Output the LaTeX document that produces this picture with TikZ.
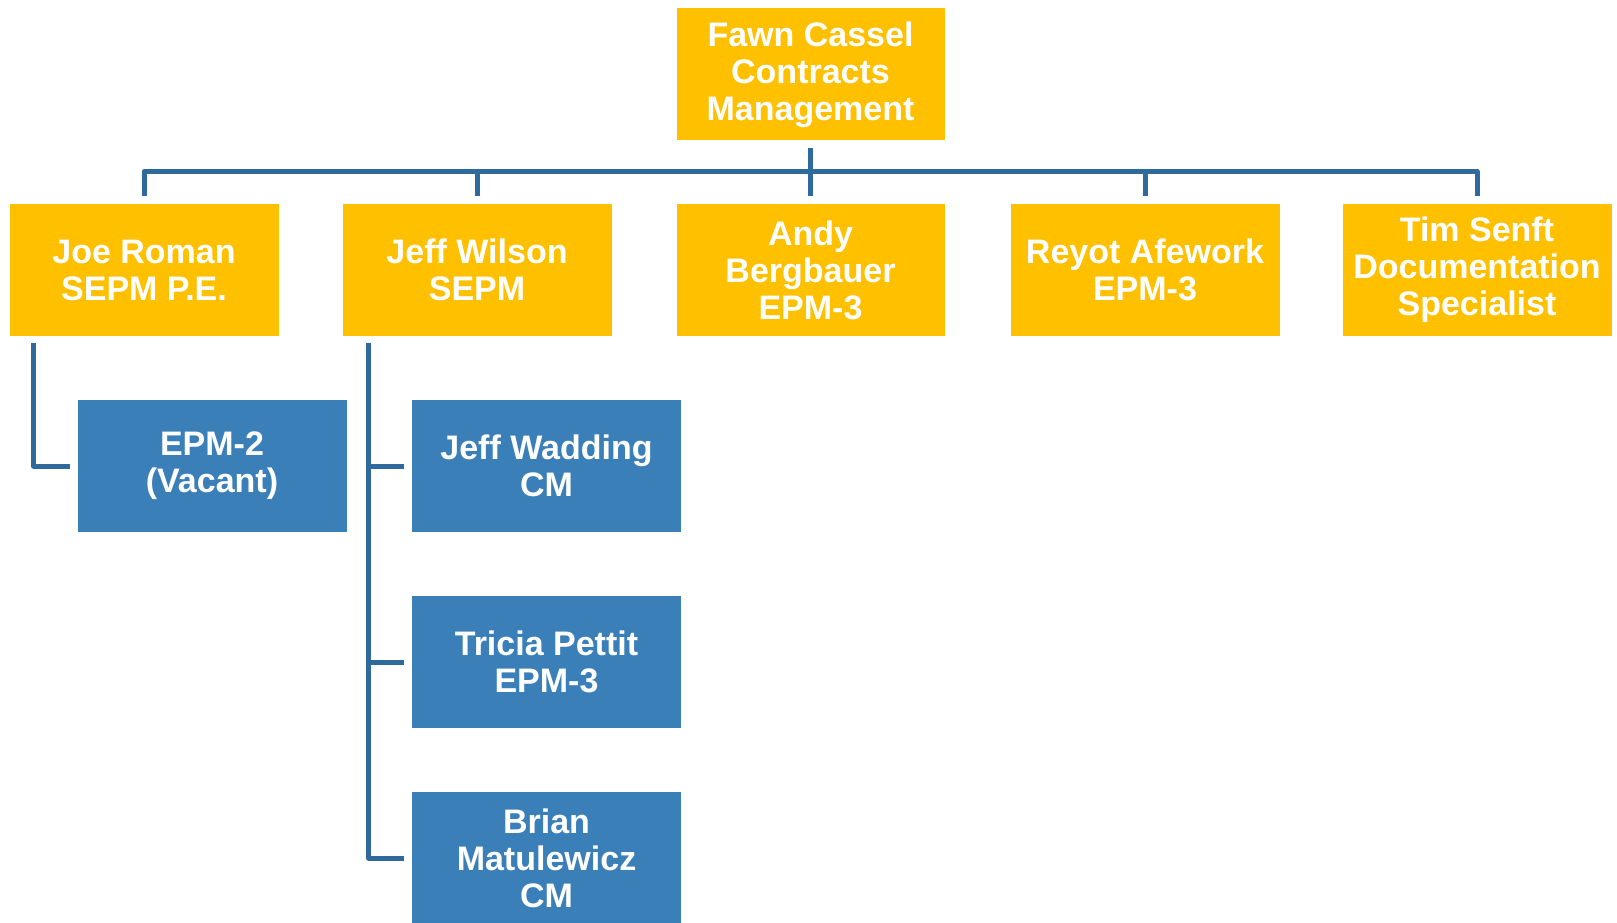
\documentclass[tikz,border=0pt]{standalone}
\usepackage{fontspec}
\setmainfont{Liberation Sans}
\definecolor{gold}{HTML}{FFC000}
\definecolor{boxblue}{HTML}{3B7FB9}
\definecolor{linkblue}{HTML}{2E6A9C}
\tikzset{
  box/.style={minimum width=269pt, minimum height=132pt, inner sep=0pt, align=center, text=white,
    font=\fontsize{34}{37}\selectfont\bfseries},
  goldbox/.style={box, fill=gold},
  bluebox/.style={box, fill=boxblue},
  conn/.style={draw=linkblue, line width=5pt, line join=round}
}
\begin{document}
\begin{tikzpicture}[x=1pt,y=-1pt]
\useasboundingbox (0,0) rectangle (1617,922);
\node[goldbox, minimum width=268pt] (top) at (810.5,74.3) {Fawn Cassel\\Contracts\\Management};
\node[goldbox] (joe) at (144,270) {Joe Roman\\SEPM P.E.};
\node[goldbox] (jeff) at (477,270) {Jeff Wilson\\SEPM};
\node[goldbox, minimum width=268pt] (andy) at (810.5,270) {Andy\\Bergbauer\\EPM-3};
\node[goldbox] (reyot) at (1145,270) {Reyot Afework\\EPM-3};
\node[goldbox] (tim) at (1477,270) {Tim Senft\\Documentation\\Specialist};
\node[bluebox] (epm2) at (212,466) {EPM-2\\(Vacant)};
\node[bluebox] (wadding) at (546.5,466) {Jeff Wadding\\CM};
\node[bluebox] (tricia) at (546.5,662) {Tricia Pettit\\EPM-3};
\node[bluebox] (brian) at (546.5,858) {Brian\\Matulewicz\\CM};
\coordinate (bar) at ([yshift=-31pt]top.south);
\path[conn] ([yshift=8pt]joe.north) |- (bar) -| ([yshift=8pt]tim.north);
\path[conn] ([yshift=-7pt]top.south) -- ([yshift=8pt]andy.north);
\path[conn] ([yshift=8pt]jeff.north) -- (jeff.north |- bar);
\path[conn] ([yshift=8pt]reyot.north) -- (reyot.north |- bar);
\path[conn] ([xshift=24pt,yshift=-7pt]joe.south west) |- ([xshift=-7pt]epm2.west);
\coordinate (jv) at ([xshift=26pt,yshift=-7pt]jeff.south west);
\path[conn] (jv) |- ([xshift=-8pt]brian.west);
\path[conn] (jv |- wadding.west) -- ([xshift=-8pt]wadding.west);
\path[conn] (jv |- tricia.west) -- ([xshift=-8pt]tricia.west);
\end{tikzpicture}
\end{document}
